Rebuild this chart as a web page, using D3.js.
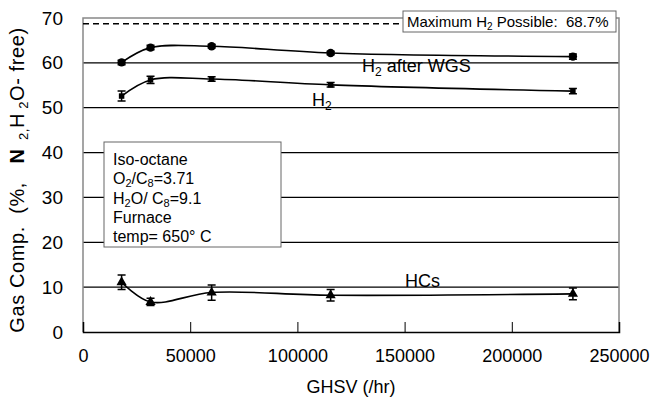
<!DOCTYPE html>
<html>
<head>
<meta charset="utf-8">
<script src="https://cdn.jsdelivr.net/npm/d3@7"></script>
<style>
  body { margin: 0; background: #fff; }
  svg { font-family: "Liberation Sans", Arial, sans-serif; }
</style>
</head>
<body>
<div id="chart"></div>
<script>
// ---------- Data ----------
const ghsv = [18000, 31500, 60000, 115500, 228500];
const h2Wgs = [60.1, 63.4, 63.7, 62.2, 61.4];
const h2WgsErr = [0.5, 0.5, 0.4, 0.4, 0.6];
const h2 = [52.6, 56.2, 56.4, 55.1, 53.7];
const h2Err = [1.1, 0.8, 0.5, 0.5, 0.6];
const hcs = [11.1, 6.7, 8.8, 8.2, 8.5];
const hcsErr = [1.6, 0.8, 1.7, 1.3, 1.3];
const maxH2 = 68.7;
const xTicks = [0, 50000, 100000, 150000, 200000, 250000];
const yTicks = [0, 10, 20, 30, 40, 50, 60, 70];

const width = 650, height = 404;
const margin = { left: 83, right: 31, top: 18, bottom: 72 };

const svg = d3.select('#chart').append('svg')
  .attr('width', width).attr('height', height);

const x = d3.scaleLinear().domain([0, 250000]).range([margin.left, width - margin.right]);
const y = d3.scaleLinear().domain([0, 70]).range([height - margin.bottom, margin.top]);

// gridlines
svg.append('g').selectAll('line')
  .data(yTicks.filter(t => t > 0 && t < 70))
  .join('line')
  .attr('x1', x(0)).attr('x2', x(250000))
  .attr('y1', d => y(d)).attr('y2', d => y(d))
  .attr('stroke', '#000').attr('stroke-width', 1.3);

// frame: top, left, right in grey
svg.append('path')
  .attr('d', `M${x(0)},${y(0)}V${y(70)}H${x(250000)}V${y(0)}`)
  .attr('fill', 'none').attr('stroke', '#888').attr('stroke-width', 1.5);

// x axis
const xAxis = svg.append('g')
  .attr('transform', `translate(0,${y(0)})`)
  .call(d3.axisBottom(x).tickValues(xTicks).tickSize(-10).tickPadding(17).tickFormat(d3.format('d')));
xAxis.select('.domain').attr('stroke', '#000').attr('stroke-width', 1.5);
xAxis.selectAll('.tick line').attr('stroke', '#000');
xAxis.selectAll('.tick').filter(d => d === 0 || d === 250000).select('line').remove();
xAxis.selectAll('text').attr('font-size', 18).attr('fill', '#000').attr('font-family', 'Liberation Sans, Arial, sans-serif');

// y axis
const yAxis = svg.append('g')
  .attr('transform', `translate(${x(0)},0)`)
  .call(d3.axisLeft(y).tickValues(yTicks).tickSize(0).tickPadding(20));
yAxis.select('.domain').remove();
yAxis.selectAll('text').attr('font-size', 19).attr('fill', '#000').attr('font-family', 'Liberation Sans, Arial, sans-serif');

// axis titles
svg.append('text')
  .attr('x', x(125000)).attr('y', 393)
  .attr('text-anchor', 'middle').attr('font-size', 18)
  .text('GHSV (/hr)');

const yTitle = svg.append('text')
  .attr('transform', `translate(24,180) rotate(-90)`)
  .attr('text-anchor', 'middle').attr('font-size', 20)
  .attr('letter-spacing', 0.6)
  .style('white-space', 'pre');
yTitle.append('tspan').text('Gas Comp.  (%,   ');
yTitle.append('tspan').attr('font-weight', 'bold').text('N');
yTitle.append('tspan').attr('font-size', 13).attr('dy', 4).text('  2,');
yTitle.append('tspan').attr('dy', -4).text('H');
yTitle.append('tspan').attr('font-size', 13).attr('dy', 4).text(' 2');
yTitle.append('tspan').attr('dy', -4).text('O- free)');

// dashed max line
svg.append('line')
  .attr('x1', x(0)).attr('x2', 400)
  .attr('y1', y(maxH2)).attr('y2', y(maxH2))
  .attr('stroke', '#000').attr('stroke-width', 1.5).attr('stroke-dasharray', '6,4');

// max box
svg.append('rect')
  .attr('x', 403).attr('y', 11).attr('width', 213).attr('height', 21)
  .attr('fill', '#fff').attr('stroke', '#666');
const maxText = svg.append('text').attr('x', 407).attr('y', 27).attr('font-size', 15).style('white-space', 'pre');
maxText.append('tspan').text('Maximum H');
maxText.append('tspan').attr('font-size', 10).attr('dy', 3).text('2');
maxText.append('tspan').attr('dy', -3).text(' Possible:  68.7%');

// series
const line = d3.line().curve(d3.curveCatmullRom.alpha(0.5)).x(d => x(d.x)).y(d => y(d.y));

function drawSeries(vals, errs, marker) {
  const pts = ghsv.map((g, i) => ({ x: g, y: vals[i], e: errs[i] }));
  svg.append('path').datum(pts)
    .attr('d', line).attr('fill', 'none').attr('stroke', '#000').attr('stroke-width', 1.6);
  const g = svg.append('g');
  g.selectAll('path.err').data(pts).join('path')
    .attr('class', 'err')
    .attr('d', d => {
      const cx = x(d.x), t = y(d.y + d.e), b = y(d.y - d.e);
      return `M${cx - 4},${t}H${cx + 4}M${cx},${t}V${b}M${cx - 4},${b}H${cx + 4}`;
    })
    .attr('stroke', '#000').attr('stroke-width', 1.5).attr('fill', 'none');
  g.selectAll('path.mk').data(pts).join('path')
    .attr('class', 'mk')
    .attr('transform', d => `translate(${x(d.x)},${y(d.y)})`)
    .attr('d', marker)
    .attr('fill', '#000');
}

drawSeries(h2Wgs, h2WgsErr, d3.symbol(d3.symbolCircle, 55)());
drawSeries(h2, h2Err, d3.symbol(d3.symbolSquare, 30)());
drawSeries(hcs, hcsErr, d3.symbol(d3.symbolTriangle, 45)());

// series labels
const lblWgs = svg.append('text').attr('x', 362).attr('y', 72).attr('font-size', 18);
lblWgs.append('tspan').text('H');
lblWgs.append('tspan').attr('font-size', 12).attr('dy', 4).text('2');
lblWgs.append('tspan').attr('dy', -4).text(' after WGS');

const lblH2 = svg.append('text').attr('x', 312).attr('y', 106).attr('font-size', 18);
lblH2.append('tspan').text('H');
lblH2.append('tspan').attr('font-size', 12).attr('dy', 4).text('2');

svg.append('text').attr('x', 405).attr('y', 287).attr('font-size', 18).text('HCs');

// info box
svg.append('rect')
  .attr('x', 104).attr('y', 142).attr('width', 177).attr('height', 105)
  .attr('fill', '#fff').attr('stroke', '#666');
const info = svg.append('g').attr('font-size', 16);
const lh = 19.3, ix = 113, iy = 165;
info.append('text').attr('x', ix).attr('y', iy).text('Iso-octane');
const l2 = info.append('text').attr('x', ix).attr('y', iy + lh);
l2.append('tspan').text('O');
l2.append('tspan').attr('font-size', 11).attr('dy', 3).text('2');
l2.append('tspan').attr('dy', -3).text('/C');
l2.append('tspan').attr('font-size', 11).attr('dy', 3).text('8');
l2.append('tspan').attr('dy', -3).text('=3.71');
const l3 = info.append('text').attr('x', ix).attr('y', iy + 2 * lh);
l3.append('tspan').text('H');
l3.append('tspan').attr('font-size', 11).attr('dy', 3).text('2');
l3.append('tspan').attr('dy', -3).text('O/ C');
l3.append('tspan').attr('font-size', 11).attr('dy', 3).text('8');
l3.append('tspan').attr('dy', -3).text('=9.1');
info.append('text').attr('x', ix).attr('y', iy + 3 * lh).text('Furnace');
info.append('text').attr('x', ix).attr('y', iy + 4 * lh).text('temp= 650° C');
</script>
</body>
</html>
